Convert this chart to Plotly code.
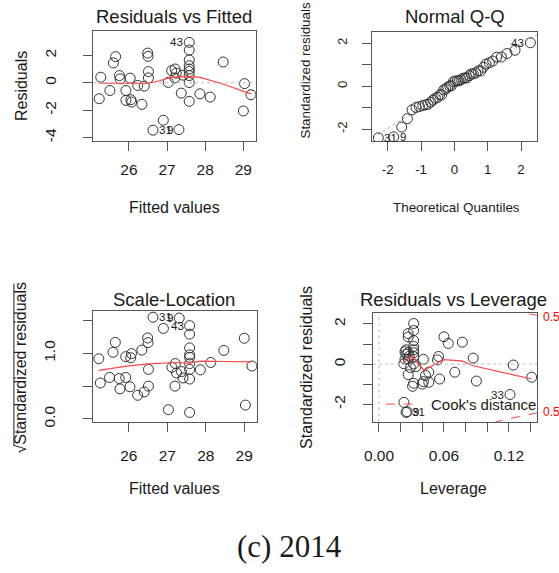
import plotly.graph_objects as go

W, H = 559, 573

# ---------------- data ----------------
fitted = [25.22, 25.26, 25.50, 25.59, 25.65, 25.75, 25.77, 25.92, 25.92, 26.03, 26.05, 26.07,
          26.23, 26.34, 26.40, 26.49, 26.50, 26.51, 26.51, 26.63, 26.90, 27.03, 27.12, 27.21,
          27.24, 27.20, 27.37, 27.31, 27.41, 27.58, 27.58, 27.58, 27.58, 27.58, 27.58, 27.58,
          27.58, 27.58, 27.86, 28.13, 28.47, 29.00, 29.03, 29.20]
residuals = [-1.16, 0.41, -0.56, 1.45, 1.91, 0.53, 0.29, -0.56, -1.28, 0.34, -1.23, -1.40,
             -0.19, -1.57, -0.24, 2.17, 1.93, 0.82, 0.36, -3.45, -2.73, 0.03, 0.89, 1.01,
             0.70, 0.36, -0.75, -3.41, 0.56, 2.95, 2.39, 1.67, 1.25, 1.01, 0.82, 0.53,
             0.02, -1.35, -0.80, -1.04, 1.52, -2.05, -0.06, -0.87]
leverage = [0.090, 0.087, 0.070, 0.064, 0.060, 0.055, 0.054, 0.046, 0.046, 0.041, 0.041, 0.040,
            0.034, 0.031, 0.029, 0.027, 0.027, 0.027, 0.027, 0.025, 0.023, 0.023, 0.024, 0.025,
            0.025, 0.024, 0.027, 0.026, 0.028, 0.032, 0.032, 0.032, 0.032, 0.032, 0.032, 0.032,
            0.032, 0.032, 0.043, 0.056, 0.077, 0.121, 0.124, 0.141]
std_resid = [-0.84, 0.30, -0.40, 1.03, 1.36, 0.38, 0.21, -0.40, -0.90, 0.24, -0.87, -0.99,
             -0.13, -1.10, -0.17, 1.52, 1.35, 0.57, 0.25, -2.40, -1.90, 0.02, 0.62, 0.71,
             0.49, 0.25, -0.52, -2.36, 0.39, 2.02, 1.67, 1.17, 0.88, 0.71, 0.57, 0.37,
             0.01, -0.95, -0.56, -0.74, 1.09, -1.51, -0.045, -0.65]
sqrt_abs_std = [0.917, 0.548, 0.632, 1.015, 1.166, 0.616, 0.458, 0.632, 0.949, 0.490, 0.933, 0.995,
                0.361, 1.049, 0.412, 1.233, 1.162, 0.755, 0.500, 1.549, 1.378, 0.141, 0.787, 0.843,
                0.700, 0.500, 0.721, 1.536, 0.624, 1.421, 1.292, 1.082, 0.938, 0.843, 0.755, 0.608,
                0.100, 0.975, 0.748, 0.860, 1.044, 1.229, 0.212, 0.806]
obs_labels = {19: "31", 27: "9", 29: "43", 41: "33"}

qq_theoretical = [-2.28, -1.82, -1.58, -1.41, -1.27, -1.15, -1.05, -0.95, -0.87, -0.79, -0.71,
                  -0.64, -0.57, -0.50, -0.44, -0.38, -0.32, -0.26, -0.20, -0.14, -0.09, -0.03,
                  0.03, 0.09, 0.14, 0.20, 0.26, 0.32, 0.38, 0.44, 0.50, 0.57, 0.64, 0.71,
                  0.79, 0.87, 0.95, 1.05, 1.15, 1.27, 1.41, 1.58, 1.82, 2.28]
qq_sample = [-2.40, -2.36, -1.90, -1.51, -1.10, -0.99, -0.95, -0.90, -0.87, -0.84, -0.74,
             -0.65, -0.56, -0.52, -0.40, -0.40, -0.17, -0.13, -0.045, 0.01, 0.02, 0.21,
             0.24, 0.25, 0.25, 0.30, 0.37, 0.38, 0.39, 0.49, 0.57, 0.57, 0.62, 0.71,
             0.71, 0.88, 1.03, 1.09, 1.17, 1.35, 1.36, 1.52, 1.67, 2.02]
qq_labels = {0: "31", 1: "9", 43: "43"}
qq_slope, qq_intercept = 0.975, -0.015

smooth1_x = [25.22, 26.0, 26.5, 26.8, 27.1, 27.3, 27.6, 27.85, 28.5, 29.2]
smooth1_y = [-0.03, -0.05, -0.04, 0.15, 0.40, 0.46, 0.46, 0.41, -0.12, -0.80]
smooth3_x = [25.22, 25.9, 26.5, 27.0, 27.2, 27.58, 27.86, 28.5, 29.2]
smooth3_y = [0.74, 0.80, 0.84, 0.855, 0.86, 0.85, 0.88, 0.875, 0.87]
smooth4_x = [0.0224, 0.0303, 0.0415, 0.047, 0.0597, 0.0764, 0.087, 0.141]
smooth4_y = [0.07, 0.40, -0.30, -0.15, 0.22, 0.16, -0.08, -0.74]

cook_h = [0.09, 0.10, 0.11, 0.12, 0.13, 0.14, 0.15]
cook_r = [3.18, 3.00, 2.84, 2.71, 2.59, 2.48, 2.38]

# ---------------- styling ----------------
FONT = "Liberation Sans, Arial, sans-serif"
TXT = "#1a1a1a"
BOX = "#555555"
PT = "#333333"
RED = "rgb(255,70,70)"


def px(x):
    return x / W


def py(y):
    return 1 - y / H


fig = go.Figure()

# panel boxes in pixels: (left, right, top, bottom)
boxes = {
    1: (85.5, 251.0, 31.0, 142.5),
    2: (369.3, 536.7, 32.3, 142.7),
    3: (85.0, 252.0, 313.3, 426.0),
    4: (370.0, 536.7, 316.0, 426.0),
}


def axis(n, rng, tickvals, ticktext, is_y, size, standoff):
    l, r, t, b = boxes[n]
    dom = [py(b), py(t)] if is_y else [px(l), px(r)]
    d = dict(domain=dom, range=rng, tickvals=tickvals, ticktext=ticktext,
             showline=True, mirror=True, linecolor=BOX, linewidth=1,
             ticks="outside", ticklen=9, tickcolor=BOX, tickwidth=1,
             showgrid=False, zeroline=False,
             tickfont=dict(family=FONT, size=size, color=TXT),
             ticklabelstandoff=standoff)
    if is_y:
        d["tickangle"] = -90
        d["anchor"] = "x" if n == 1 else f"x{n}"
    else:
        d["anchor"] = "y" if n == 1 else f"y{n}"
    return d


fig.update_layout(
    xaxis=axis(1, [25.06, 29.33], [26, 27, 28, 29], ["26", "27", "28", "29"], False, 15.5, 5),
    yaxis=axis(1, [-4.26, 3.80], [-4, -2, 0, 2], ["-4", "-2", "0", "2"], True, 15.5, 21),
    xaxis2=axis(2, [-2.46, 2.48], [-2, -1, 0, 1, 2], ["-2", "-1", "0", "1", "2"], False, 13.3, 7),
    yaxis2=axis(2, [-2.57, 2.52], [-2, -1, 0, 1, 2], ["-2", "", "0", "", "2"], True, 13.3, 10),
    xaxis3=axis(3, [25.06, 29.33], [26, 27, 28, 29], ["26", "27", "28", "29"], False, 15.5, 10),
    yaxis3=axis(3, [-0.05, 1.65], [0, 0.5, 1.0, 1.5], ["0.0", "", "1.0", ""], True, 15.5, 21),
    xaxis4=axis(4, [-0.0055, 0.146], [0, 0.02, 0.04, 0.06, 0.08, 0.10, 0.12, 0.14],
                ["0.00", "", "", "0.06", "", "", "0.12", ""], False, 15.5, 10),
    yaxis4=axis(4, [-2.89, 2.53], [-2, -1, 0, 1, 2], ["-2", "", "0", "", "2"], True, 15.5, 12),
)

marker = dict(symbol="circle-open", size=10, color=PT, line=dict(width=1, color=PT))

# reference dotted lines
shapes = [
    dict(type="line", xref="x domain", yref="y", x0=0, x1=1, y0=0, y1=0,
         line=dict(color="#bbbbbb", width=1, dash="dot")),
    dict(type="line", xref="x4 domain", yref="y4", x0=0, x1=1, y0=0, y1=0,
         line=dict(color="#bbbbbb", width=1, dash="dot")),
    dict(type="line", xref="x4", yref="y4 domain", x0=0, x1=0, y0=0, y1=1,
         line=dict(color="#bbbbbb", width=1, dash="dot")),
]

# QQ line
qx = [-2.46, 2.48]
fig.add_trace(go.Scatter(x=qx, y=[qq_intercept + qq_slope * v for v in qx], xaxis="x2", yaxis="y2",
                         mode="lines", line=dict(color="#aaaaaa", width=1, dash="dot"),
                         hoverinfo="skip"))

# panel 1
fig.add_trace(go.Scatter(x=fitted, y=residuals, mode="markers", marker=marker, xaxis="x", yaxis="y"))
fig.add_trace(go.Scatter(x=smooth1_x, y=smooth1_y, mode="lines", line=dict(color=RED, width=1.2),
                         xaxis="x", yaxis="y"))
# panel 2
fig.add_trace(go.Scatter(x=qq_theoretical, y=qq_sample, mode="markers", marker=marker,
                         xaxis="x2", yaxis="y2"))
# panel 3
fig.add_trace(go.Scatter(x=fitted, y=sqrt_abs_std, mode="markers", marker=marker, xaxis="x3", yaxis="y3"))
fig.add_trace(go.Scatter(x=smooth3_x, y=smooth3_y, mode="lines", line=dict(color=RED, width=1.2),
                         xaxis="x3", yaxis="y3"))
# panel 4
fig.add_trace(go.Scatter(x=leverage, y=std_resid, mode="markers", marker=marker, xaxis="x4", yaxis="y4"))
fig.add_trace(go.Scatter(x=smooth4_x, y=smooth4_y, mode="lines", line=dict(color=RED, width=1.2),
                         xaxis="x4", yaxis="y4"))
fig.add_trace(go.Scatter(x=cook_h, y=cook_r, mode="lines", line=dict(color=RED, width=1, dash="dash"),
                         xaxis="x4", yaxis="y4"))
fig.add_trace(go.Scatter(x=cook_h, y=[-v for v in cook_r], mode="lines",
                         line=dict(color=RED, width=1, dash="dash"), xaxis="x4", yaxis="y4"))

ann = []


def label(text, x, y, xref, yref, left):
    ann.append(dict(text=text, x=x, y=y, xref=xref, yref=yref, showarrow=False,
                    xanchor="left" if left else "right", yanchor="middle",
                    xshift=4 if left else -4, font=dict(family=FONT, size=11.5, color=TXT)))


mid1 = (25.06 + 29.33) / 2
for i, t in obs_labels.items():
    if t == "33":
        continue
    label(t, fitted[i], residuals[i], "x", "y", fitted[i] < mid1)
    label(t, fitted[i], sqrt_abs_std[i], "x3", "y3", fitted[i] < mid1)
for i, t in qq_labels.items():
    label(t, qq_theoretical[i], qq_sample[i], "x2", "y2", qq_theoretical[i] < 0)
for i in (19, 27, 41):
    label(obs_labels[i], leverage[i], std_resid[i], "x4", "y4", leverage[i] < 0.07)


def text(t, x, y, size, angle=0, color=TXT, xanchor="center", family=FONT):
    ann.append(dict(text=t, x=px(x), y=py(y), xref="paper", yref="paper", showarrow=False,
                    xanchor=xanchor, yanchor="middle", textangle=angle,
                    font=dict(family=family, size=size, color=color)))


# titles
text("Residuals vs Fitted", 168, 17, 18.5)
text("Normal Q-Q", 453, 17, 18.5)
text("Scale-Location", 168, 302, 18.5)
text("Residuals vs Leverage", 452, 302, 18.5)
# x axis titles
text("Fitted values", 168, 209, 16)
text("Theoretical Quantiles", 455, 209, 13.4)
text("Fitted values", 168, 493, 16)
text("Leverage", 452, 493, 16)
# y axis titles
text("Residuals", 12, 87, 16, -90)
text("Standardized residuals", 301, 71, 13.4, -90)
text("√Standardized residuals", 12, 371, 16, -90)
text("Standardized residuals", 303, 371, 16, -90)
# vinculum of the square-root sign
shapes.append(dict(type="line", xref="paper", yref="paper", x0=px(5), x1=px(5), y0=py(286),
                   y1=py(449), line=dict(color=TXT, width=1)))
# Cook's distance legend and contour labels
text("Cook's distance", 426.5, 408, 15, xanchor="left")
text("0.5", 541, 320, 12, color="red", xanchor="left")
text("0.5", 541, 416, 12, color="red", xanchor="left")
shapes.append(dict(type="line", xref="paper", yref="paper", x0=px(383), x1=px(410), y0=py(407.7),
                   y1=py(407.7), line=dict(color=RED, width=1, dash="dash")))
# caption
text("(c) 2014", 285, 551, 31, family="Liberation Serif, Times New Roman, serif")

fig.update_layout(width=W, height=H, margin=dict(l=0, r=0, t=0, b=0), showlegend=False,
                  paper_bgcolor="white", plot_bgcolor="white", annotations=ann, shapes=shapes)

fig.write_html("out.html", config={"displayModeBar": False},
               post_script="document.body.style.margin='0px';")
